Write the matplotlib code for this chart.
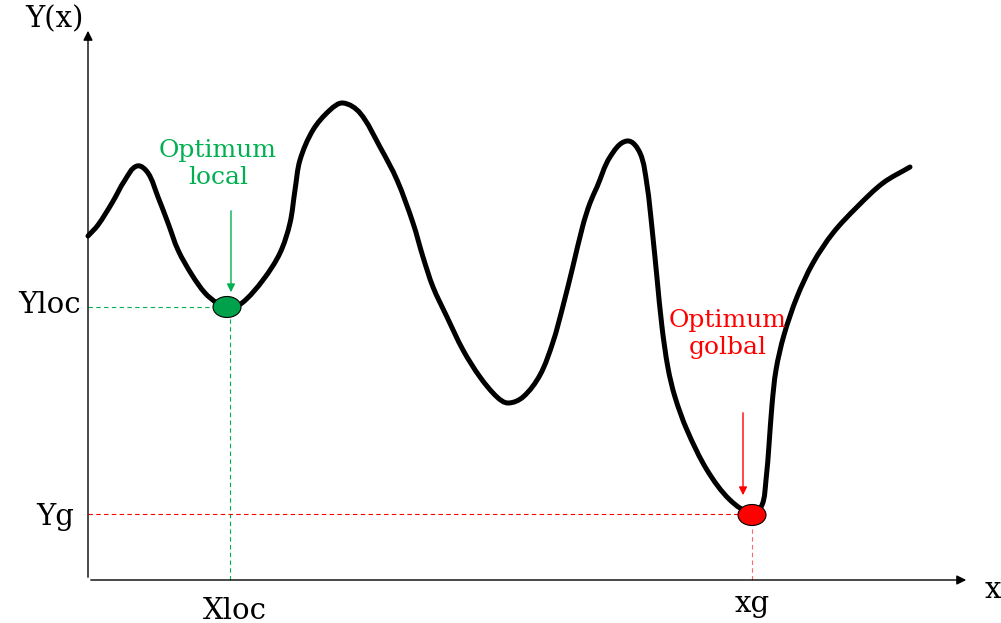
import numpy as np
import matplotlib
matplotlib.use("Agg")
import matplotlib.pyplot as plt
from matplotlib.patches import Ellipse, PathPatch
from matplotlib.path import Path

# curve points (origin at the axes corner, y up)
curve_x = [0, 10, 24, 37, 49, 60, 70, 80, 90, 104,
           117, 129, 140, 154, 175, 192, 202, 207, 212, 225,
           242, 255, 272, 292, 309, 325, 335, 345, 359, 375,
           392, 409, 420, 435, 452, 465, 475, 485, 495, 502,
           509, 522, 539, 552, 559, 564, 569, 574, 580, 587,
           599, 619, 642, 664, 674, 678, 681, 684, 688, 696,
           709, 725, 745, 769, 795, 822]
curve_y = [344, 355, 377, 400, 414, 407, 383, 357, 330, 305,
           287, 277, 272, 277, 300, 327, 357, 390, 420, 450,
           470, 477, 467, 433, 400, 357, 323, 293, 263, 230,
           203, 183, 177, 183, 205, 238, 274, 314, 355, 377,
           393, 423, 439, 427, 395, 352, 302, 253, 212, 183,
           150, 110, 80, 67, 75, 100, 135, 175, 210, 245,
           283, 317, 347, 373, 397, 413]

x_loc, y_loc = 139, 273
x_g, y_g = 664, 67
labels = {"yaxis": "Y(x)", "xaxis": "x", "yloc": "Yloc", "yg": "Yg",
          "xloc": "Xloc", "xg": "xg"}
green_txt = "Optimum\nlocal"
red_txt = "Optimum\ngolbal"

GREEN = "#00b050"
GREEN_DOT = "#00a14b"
RED = "#ff0000"
FONT = "DejaVu Serif"


def smooth_path(xs, ys):
    # smooth Bezier path through the read points (chord-direction tangents)
    p = np.column_stack([xs, ys]).astype(float)
    d = np.hypot(*np.diff(p, axis=0).T)
    m = np.empty_like(p)
    m[0], m[-1] = p[1] - p[0], p[-1] - p[-2]
    m[1:-1] = p[2:] - p[:-2]
    m /= np.hypot(m[:, 0], m[:, 1])[:, None]
    verts = [p[0]]
    codes = [Path.MOVETO]
    for i in range(len(p) - 1):
        verts += [p[i] + m[i] * d[i] / 3, p[i + 1] - m[i + 1] * d[i] / 3, p[i + 1]]
        codes += [Path.CURVE4] * 3
    return Path(verts, codes)


fig = plt.figure(figsize=(10.01, 6.23), dpi=100)
ax = fig.add_axes([0, 0, 1, 1])
ax.set_xlim(-88, 913)
ax.set_ylim(-43, 580)
ax.axis("off")

# axes with arrows
ax.annotate("", xy=(0, 552), xytext=(0, 0),
            arrowprops=dict(arrowstyle="-|>", color="black", lw=1.0, mutation_scale=14))
ax.annotate("", xy=(881, 0), xytext=(0, 0),
            arrowprops=dict(arrowstyle="-|>", color="black", lw=1.0, mutation_scale=14))

# dashed guides
ax.plot([0, x_loc], [y_loc, y_loc], color=GREEN, lw=0.8, ls=(0, (4, 3)))
ax.plot([x_loc + 3, x_loc + 3], [0, y_loc], color=GREEN, lw=0.8, ls=(0, (4, 3)))
ax.plot([0, x_g], [y_g - 1, y_g - 1], color=RED, lw=0.8, ls=(0, (4, 3)))
ax.plot([x_g, x_g], [0, y_g], color=RED, lw=0.8, ls=(0, (4, 3)), alpha=0.6)

# curve
ax.add_patch(PathPatch(smooth_path(curve_x, curve_y), facecolor="none",
                       edgecolor="black", lw=3.6, joinstyle="round",
                       capstyle="round", zorder=3))

# optimum markers
ax.add_patch(Ellipse((x_loc, y_loc), 28, 21, facecolor=GREEN_DOT, edgecolor="black",
                     lw=0.8, zorder=4))
ax.add_patch(Ellipse((x_g, y_g - 2), 28, 21, facecolor=RED, edgecolor="black",
                     lw=0.8, zorder=4))

# annotation arrows
ax.annotate("", xy=(x_loc + 4, 285), xytext=(x_loc + 4, 372),
            arrowprops=dict(arrowstyle="-|>", color=GREEN, lw=1.0, mutation_scale=12))
ax.annotate("", xy=(x_g - 9, 82), xytext=(x_g - 9, 170),
            arrowprops=dict(arrowstyle="-|>", color=RED, lw=1.0, mutation_scale=12))

ax.text(130, 416, green_txt, color=GREEN, fontsize=18, family=FONT,
        ha="center", va="center", linespacing=1.2)
ax.text(640, 246, red_txt, color=RED, fontsize=18, family=FONT,
        ha="center", va="center", linespacing=1.2)

ax.text(-34, 561, labels["yaxis"], fontsize=21, family=FONT, ha="center", va="center")
ax.text(-7, 275, labels["yloc"], fontsize=21, family=FONT, ha="right", va="center")
ax.text(-14, 63, labels["yg"], fontsize=21, family=FONT, ha="right", va="center")
ax.text(147, -31, labels["xloc"], fontsize=21, family=FONT, ha="center", va="center")
ax.text(664, -24, labels["xg"], fontsize=21, family=FONT, ha="center", va="center")
ax.text(897, -10, labels["xaxis"], fontsize=21, family=FONT, ha="left", va="center")

fig.savefig("out.png", dpi=100)
